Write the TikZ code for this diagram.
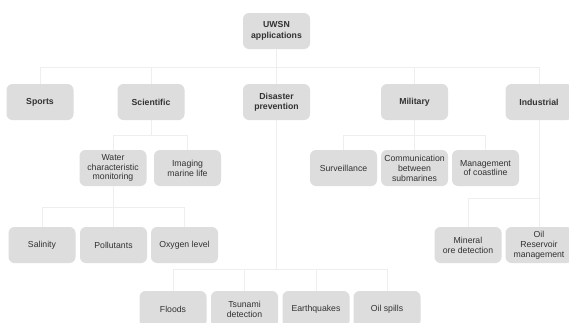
\documentclass[tikz,border=0pt]{standalone}
\usepackage{fontspec}
\setmainfont{Liberation Sans}
\begin{document}
\begin{tikzpicture}[x=1pt,y=-1pt,
  box/.style={draw=none,fill=boxgray,rounded corners=6pt,minimum width=67pt,minimum height=36pt,
    align=center,text=txtgray,font=\fontsize{8.7}{9.9}\selectfont,inner sep=1pt},
  hbox/.style={box,font=\fontsize{8.7}{10.5}\selectfont\bfseries},
  conn/.style={draw=linegray,line width=0.8pt}]
\definecolor{boxgray}{RGB}{221,221,221}
\definecolor{txtgray}{RGB}{50,50,50}
\definecolor{linegray}{RGB}{238,238,238}
\useasboundingbox (0,0) rectangle (569,322);
\fill[white] (0,0) rectangle (569,322);
% bus coordinates
\coordinate (b1) at (0,67);
\coordinate (b2) at (0,135);
\coordinate (b3) at (0,207);
\coordinate (b4) at (0,269);
\coordinate (b5) at (0,198);
% nodes
\node[hbox] (root) at (276.5,31) {UWSN\\applications};
\node[hbox] (sports) at (40,102) {Sports};
\node[hbox] (sci) at (151,102) {Scientific};
\node[hbox] (dis) at (276.5,102) {Disaster\\prevention};
\node[hbox] (mil) at (414.5,102) {Military};
\node[hbox] (ind) at (539,102) {Industrial};
\node[box] (water) at (113,168) {Water\\characteristic\\monitoring};
\node[box] (img) at (187.5,168) {Imaging\\marine life};
\node[box] (sal) at (42,245) {Salinity};
\node[box] (pol) at (113.5,245) {Pollutants};
\node[box] (oxy) at (184.5,245) {Oxygen level};
\node[box] (surv) at (343.5,168) {Surveillance};
\node[box] (comm) at (414.5,168) {Communication\\between\\submarines};
\node[box] (mgmt) at (485.5,168) {Management\\of coastline};
\node[box] (mine) at (468,245) {Mineral\\ore detection};
\node[box] (oilr) at (539,245) {Oil\\Reservoir\\management};
\node[box] (flood) at (173,309) {Floods};
\node[box] (tsu) at (244.5,309) {Tsunami\\detection};
\node[box] (eq) at (316,309) {Earthquakes};
\node[box] (oils) at (387,309) {Oil spills};
% connectors
\foreach \c in {sports,sci,dis,mil,ind}
  \draw[conn] (root.south) -- (root.south |- b1) -| (\c.north);
\foreach \c in {water,img}
  \draw[conn] (sci.south) -- (sci.south |- b2) -| (\c.north);
\foreach \c in {sal,pol,oxy}
  \draw[conn] (water.south) -- (water.south |- b3) -| (\c.north);
\foreach \c in {surv,comm,mgmt}
  \draw[conn] (mil.south) -- (mil.south |- b2) -| (\c.north);
\foreach \c in {mine,oilr}
  \draw[conn] (ind.south) -- (ind.south |- b5) -| (\c.north);
\foreach \c in {flood,tsu,eq,oils}
  \draw[conn] (dis.south) -- (dis.south |- b4) -| (\c.north);
\end{tikzpicture}
\end{document}
